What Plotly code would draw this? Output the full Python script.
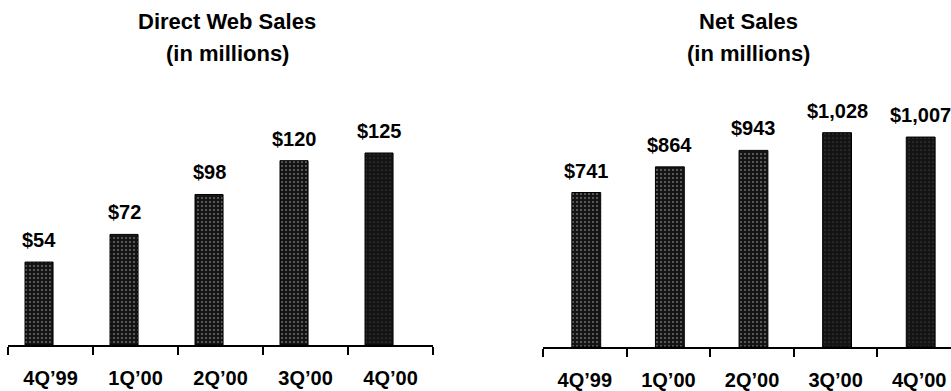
import plotly.graph_objects as go
from plotly.subplots import make_subplots

quarters = ["4Q’99", "1Q’00", "2Q’00", "3Q’00", "4Q’00"]
web_sales = [54, 72, 98, 120, 125]
net_sales = [741, 864, 943, 1028, 1007]
web_labels = ["$54", "$72", "$98", "$120", "$125"]
net_labels = ["$741", "$864", "$943", "$1,028", "$1,007"]

# speckle strength per bar (lighter grain on earlier quarters)
web_grain = [0.16, 0.16, 0.16, 0.16, 0.05]
net_grain = [0.16, 0.16, 0.16, 0.05, 0.05]

W, H = 951, 391
FONT = "Liberation Sans, Arial, sans-serif"

fig = make_subplots(rows=1, cols=2)

def add_bars(vals, grain, col, width, offset):
    fig.add_trace(
        go.Bar(
            x=quarters, y=vals, width=width, offset=offset,
            marker=dict(
                color="#141414",
                line=dict(color="black", width=1),
                pattern=dict(shape=".", fgcolor="#d8d8d8", size=4,
                             solidity=grain, fillmode="overlay"),
            ),
            showlegend=False, hoverinfo="skip",
        ),
        row=1, col=col,
    )

add_bars(web_sales, web_grain, 1, 0.33, -0.30)
add_bars(net_sales, net_grain, 2, 0.345, -0.155)

def bold(size):
    return dict(family=FONT, size=size, color="black", weight="bold")

annotations = []
for i, (v, t) in enumerate(zip(web_sales, web_labels)):
    annotations.append(dict(x=i - 0.30 + 0.165, y=v, xref="x", yref="y", text=t,
                            showarrow=False, xanchor="center", yanchor="bottom",
                            yshift=9, font=bold(20)))
for i, (v, t) in enumerate(zip(net_sales, net_labels)):
    annotations.append(dict(x=i - 0.155 + 0.1725, y=v, xref="x2", yref="y2", text=t,
                            showarrow=False, xanchor="center", yanchor="bottom",
                            yshift=9, font=bold(20)))

# panel titles
for xc, line1 in [(227 / W, "Direct Web Sales"), (748 / W, "Net Sales")]:
    annotations.append(dict(x=xc, y=1 - 22 / H, xref="paper", yref="paper", text=line1,
                            showarrow=False, xanchor="center", yanchor="middle",
                            font=bold(22)))
    annotations.append(dict(x=xc, y=1 - 53 / H, xref="paper", yref="paper",
                            text="(in millions)", showarrow=False, xanchor="center",
                            yanchor="middle", font=bold(22)))

axis_common = dict(
    type="category", tickson="boundaries", ticks="outside", ticklen=8, tickwidth=2,
    tickcolor="black", showline=True, linecolor="black", linewidth=2,
    showgrid=False, zeroline=False, ticklabelstandoff=14,
    tickfont=bold(20),
)
yaxis_common = dict(visible=False, showgrid=False, zeroline=False)

fig.update_layout(
    width=W, height=H,
    margin=dict(l=0, r=0, t=0, b=0),
    paper_bgcolor="white", plot_bgcolor="white",
    bargap=0.6,
    annotations=annotations,
    xaxis=dict(axis_common, domain=[8 / W, 433 / W], range=[-0.5, 4.5]),
    xaxis2=dict(axis_common, domain=[543 / W, 1.0], range=[-0.5, 4.38]),
    yaxis=dict(yaxis_common, domain=[(H - 345) / H, (H - 100) / H], range=[0, 159.5]),
    yaxis2=dict(yaxis_common, domain=[(H - 347) / H, (H - 100) / H], range=[0, 1184.7]),
)

fig.write_html("out.html")
